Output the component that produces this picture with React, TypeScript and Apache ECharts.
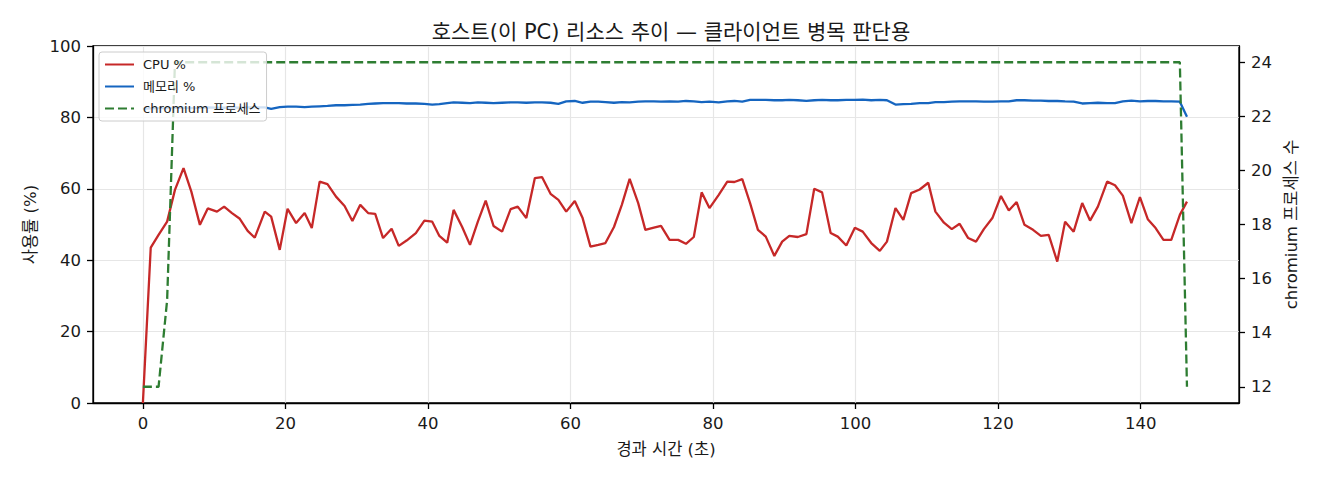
import { useEffect, useRef } from 'react';
import * as echarts from 'echarts';

// elapsed seconds for each sample
const times = [
  0, 1.1, 2.2, 3.4, 4.5, 5.7, 6.8, 8.0, 9.1, 10.4,
  11.4, 12.5, 13.6, 14.7, 15.7, 17.1, 18.0, 19.2, 20.3, 21.5,
  22.7, 23.7, 24.8, 25.9, 27.1, 28.3, 29.4, 30.5, 31.6, 32.6,
  33.7, 34.9, 35.9, 37.0, 38.3, 39.5, 40.6, 41.6, 42.7, 43.6,
  44.8, 45.9, 47.0, 48.1, 49.2, 50.4, 51.6, 52.6, 53.8, 55.0,
  56.0, 57.2, 58.3, 59.4, 60.6, 61.7, 62.8, 63.9, 64.9, 66.1,
  67.2, 68.3, 69.5, 70.5, 71.7, 72.7, 73.9, 75.1, 76.2, 77.3,
  78.4, 79.5, 80.8, 82.0, 83.0, 84.1, 85.2, 86.3, 87.4, 88.6,
  89.7, 90.7, 91.9, 93.1, 94.2, 95.3, 96.5, 97.5, 98.7, 99.9,
  101.0, 102.2, 103.4, 104.4, 105.6, 106.7, 107.8, 109.0, 110.2, 111.2,
  112.4, 113.5, 114.6, 115.8, 116.9, 118.0, 119.2, 120.4, 121.5, 122.6,
  123.7, 124.9, 126.0, 127.1, 128.3, 129.4, 130.6, 131.8, 132.9, 134.0,
  135.3, 136.4, 137.5, 138.7, 139.9, 141.0, 142.1, 143.2, 144.3, 145.5,
  146.5,
];

const cpuPct = [
  0, 43.5, 47.1, 50.8, 59.7, 65.8, 59.2, 49.9, 54.5, 53.6,
  55.0, 53.2, 51.6, 48.2, 46.3, 53.6, 52.2, 42.9, 54.4, 50.4,
  53.2, 49.0, 62.0, 61.3, 57.8, 55.2, 51.0, 55.5, 53.2, 53.0,
  46.2, 48.8, 44.0, 45.5, 47.6, 51.1, 50.8, 46.8, 44.9, 54.1,
  49.3, 44.3, 50.8, 56.7, 49.6, 48.0, 54.3, 55.0, 51.8, 63.0,
  63.3, 58.6, 56.9, 53.6, 56.6, 51.8, 43.8, 44.3, 44.8, 49.3,
  55.5, 62.8, 56.0, 48.5, 49.1, 49.6, 45.7, 45.7, 44.6, 46.5,
  59.0, 54.6, 58.3, 62.0, 61.9, 62.7, 56.0, 48.5, 46.6, 41.2,
  45.2, 46.8, 46.5, 47.3, 60.0, 59.0, 47.6, 46.6, 44.1, 49.1,
  48.0, 44.8, 42.6, 45.2, 54.6, 51.3, 58.8, 59.8, 61.7, 53.6,
  50.5, 48.7, 50.2, 46.2, 45.2, 48.7, 51.8, 58.0, 53.9, 56.3,
  49.9, 48.5, 46.8, 47.1, 39.6, 50.8, 48.0, 56.0, 51.1, 55.0,
  62.0, 61.0, 58.1, 50.4, 57.7, 51.5, 49.0, 45.7, 45.7, 52.7,
  56.4,
];

const memPct = [
  82.4, 82.5, 82.6, 82.6, 82.7, 82.7, 82.6, 82.7, 82.8, 82.7,
  82.7, 82.8, 82.7, 82.8, 82.8, 82.8, 82.4, 82.9, 83.0, 83.0,
  82.9, 83.0, 83.1, 83.2, 83.4, 83.4, 83.5, 83.6, 83.8, 83.9,
  84.0, 84.0, 84.0, 83.9, 83.9, 83.8, 83.6, 83.7, 84.0, 84.2,
  84.1, 84.0, 84.2, 84.1, 84.0, 84.1, 84.2, 84.2, 84.1, 84.2,
  84.2, 84.1, 83.8, 84.5, 84.6, 84.1, 84.4, 84.4, 84.3, 84.1,
  84.3, 84.2, 84.4, 84.5, 84.5, 84.4, 84.5, 84.4, 84.6, 84.5,
  84.3, 84.4, 84.2, 84.5, 84.6, 84.4, 84.9, 84.9, 84.9, 84.8,
  84.8, 84.9, 84.8, 84.6, 84.8, 84.9, 84.8, 84.8, 84.9, 84.9,
  85.0, 84.8, 84.9, 84.8, 83.6, 83.7, 83.8, 84.0, 84.0, 84.3,
  84.3, 84.4, 84.5, 84.5, 84.5, 84.4, 84.4, 84.5, 84.5, 84.8,
  84.8, 84.7, 84.7, 84.6, 84.6, 84.5, 84.4, 83.9, 84.0, 84.1,
  84.0, 84.0, 84.5, 84.7, 84.5, 84.6, 84.6, 84.5, 84.5, 84.4,
  80.2,
];

const chromiumCount = [
  12, 12, 12, 15.2, 24, 24, 24, 24, 24, 24,
  24, 24, 24, 24, 24, 24, 24, 24, 24, 24,
  24, 24, 24, 24, 24, 24, 24, 24, 24, 24,
  24, 24, 24, 24, 24, 24, 24, 24, 24, 24,
  24, 24, 24, 24, 24, 24, 24, 24, 24, 24,
  24, 24, 24, 24, 24, 24, 24, 24, 24, 24,
  24, 24, 24, 24, 24, 24, 24, 24, 24, 24,
  24, 24, 24, 24, 24, 24, 24, 24, 24, 24,
  24, 24, 24, 24, 24, 24, 24, 24, 24, 24,
  24, 24, 24, 24, 24, 24, 24, 24, 24, 24,
  24, 24, 24, 24, 24, 24, 24, 24, 24, 24,
  24, 24, 24, 24, 24, 24, 24, 24, 24, 24,
  24, 24, 24, 24, 24, 24, 24, 24, 24, 24,
  12,
];

const xTicks = [0, 20, 40, 60, 80, 100, 120, 140];
const countTicks = [12, 14, 16, 18, 20, 22, 24];

const FONT = "'DejaVu Sans', 'Noto Sans CJK KR', sans-serif";
const INK = '#1a1a1a';

export default function App() {
  const chartRef = useRef<HTMLDivElement>(null);

  useEffect(() => {
    if (!chartRef.current) return;
    const chart = echarts.init(chartRef.current, null, { renderer: 'svg' });

    const pairs = (vals: number[]) => times.map((t, i) => [t, vals[i]]);

    const tickLabel = {
      color: INK,
      fontSize: 16.5,
      fontFamily: FONT,
      margin: 12,
    };
    const axisName = {
      color: INK,
      fontSize: 16.5,
      fontFamily: FONT,
    };
    const blackLine = { lineStyle: { color: '#000', width: 1.3 } };

    const option: echarts.EChartsOption = {
      animation: false,
      backgroundColor: '#fff',
      title: {
        text: '호스트(이 PC) 리소스 추이 — 클라이언트 병목 판단용',
        left: 666,
        top: 16,
        textAlign: 'center',
        textStyle: {
          color: INK,
          fontSize: 21,
          fontWeight: 'normal',
          fontFamily: FONT,
        },
      },
      grid: {
        left: 93,
        right: 81,
        top: 46,
        bottom: 77,
        show: true,
        borderColor: '#000',
        borderWidth: 1.3,
        backgroundColor: 'transparent',
      },
      legend: {
        orient: 'vertical',
        left: 99,
        top: 52,
        padding: [6, 6, 6, 5],
        itemWidth: 29,
        itemHeight: 14,
        itemGap: 9,
        backgroundColor: 'rgba(255,255,255,0.8)',
        borderColor: '#cccccc',
        borderWidth: 1,
        borderRadius: 3,
        itemStyle: { opacity: 0 },
        textStyle: {
          color: INK,
          fontSize: 13,
          fontFamily: FONT,
          padding: [0, 0, 0, 4],
        },
        data: ['CPU %', '메모리 %', 'chromium 프로세스'],
      },
      xAxis: {
        type: 'value',
        min: -7.0,
        max: 153.8,
        name: '경과 시간 (초)',
        nameLocation: 'middle',
        nameGap: 38,
        nameTextStyle: axisName,
        axisLine: { show: true, onZero: false, ...blackLine },
        axisTick: { show: true, length: 6, customValues: xTicks, ...blackLine },
        axisLabel: { ...tickLabel, customValues: xTicks },
        splitLine: { show: true, lineStyle: { color: '#e6e6e6', width: 1.2 } },
      },
      yAxis: [
        {
          type: 'value',
          position: 'left',
          min: 0,
          max: 100,
          interval: 20,
          name: '사용률 (%)',
          nameLocation: 'middle',
          nameRotate: 90,
          nameGap: 53,
          nameTextStyle: axisName,
          axisLine: { show: true, onZero: false, ...blackLine },
          axisTick: { show: true, length: 6, ...blackLine },
          axisLabel: tickLabel,
          splitLine: { show: true, lineStyle: { color: '#e6e6e6', width: 1.2 } },
        },
        {
          type: 'value',
          position: 'right',
          min: 11.4,
          max: 24.6,
          name: 'chromium 프로세스 수',
          nameLocation: 'middle',
          nameRotate: 90,
          nameGap: 43,
          nameTextStyle: axisName,
          axisLine: { show: true, onZero: false, ...blackLine },
          axisTick: { show: true, length: 6, customValues: countTicks, ...blackLine },
          axisLabel: { ...tickLabel, customValues: countTicks },
          splitLine: { show: false },
        },
      ],
      series: [
        {
          name: 'CPU %',
          type: 'line',
          yAxisIndex: 0,
          symbol: 'none',
          data: pairs(cpuPct),
          lineStyle: { color: '#c62828', width: 2.3 },
          itemStyle: { color: '#c62828' },
        },
        {
          name: '메모리 %',
          type: 'line',
          yAxisIndex: 0,
          symbol: 'none',
          data: pairs(memPct),
          lineStyle: { color: '#1565c0', width: 2.3 },
          itemStyle: { color: '#1565c0' },
        },
        {
          name: 'chromium 프로세스',
          type: 'line',
          yAxisIndex: 1,
          symbol: 'none',
          data: pairs(chromiumCount),
          lineStyle: { color: '#2e7d32', width: 2.3, type: [9, 4] },
          itemStyle: { color: '#2e7d32' },
        },
      ],
    };

    chart.setOption(option);

    return () => {
      chart.dispose();
    };
  }, []);

  return (
    <div
      ref={chartRef}
      style={{ position: 'absolute', left: 0, top: 0, width: 1320, height: 480 }}
    />
  );
}
